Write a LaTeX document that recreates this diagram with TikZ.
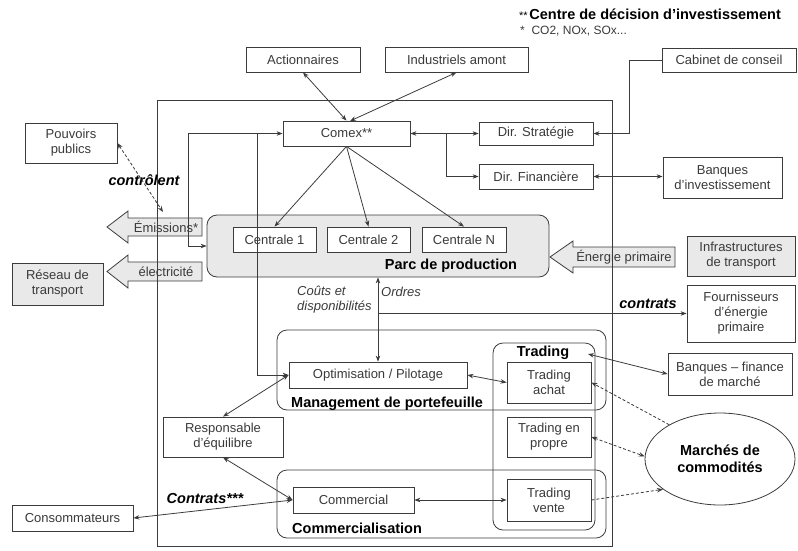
\documentclass[tikz,border=0pt]{standalone}
\usepackage{fontspec}
\setmainfont{Liberation Sans}
\usetikzlibrary{arrows.meta,shapes.geometric}
\definecolor{linec}{HTML}{3C3C3C}
\definecolor{txt}{HTML}{3A3A3A}
\definecolor{grayf}{HTML}{E9E9E9}
\newcommand{\fsreg}{\fontsize{13}{15}\selectfont}
\newcommand{\fsbold}{\fontsize{14.5}{17}\selectfont\bfseries}
\tikzset{
  box/.style={draw=linec, line width=0.8pt, fill=white, inner sep=1pt, align=center, text=txt, font=\fsreg},
  graybox/.style={box, fill=grayf},
  cont/.style={draw=linec, line width=0.8pt, rounded corners=10pt},
  blk/.style={draw=linec, line width=0.8pt, fill=grayf},
  conn/.style={draw=linec, line width=0.8pt},
  tip2/.style={{Stealth[length=6pt,width=4.5pt]}-{Stealth[length=6pt,width=4.5pt]}},
  tip1/.style={-{Stealth[length=6pt,width=4.5pt]}},
  dsh/.style={dash pattern=on 3pt off 2pt},
  lbl/.style={inner sep=0pt, text=black, font=\fsbold},
  ilbl/.style={inner sep=0pt, text=txt, font=\fsreg\itshape, align=left},
  bilbl/.style={inner sep=0pt, text=black, font=\fsbold\itshape}
}
\begin{document}
\begin{tikzpicture}[x=1pt,y=-1pt]
\useasboundingbox (0,0) rectangle (798,550);

% legend
\node[anchor=west, inner sep=0pt, text=black] (leg1) at (519,14) {{\fontsize{11}{13}\selectfont **}\,{\fsbold Centre de décision d'investissement}};
\node[anchor=west, inner sep=0pt, text=txt, font=\fontsize{12}{14}\selectfont] (leg2) at (520,31) {*\ \ CO2, NOx, SOx...};

% containers
\node[cont, fill=grayf, minimum width=342pt, minimum height=62pt, inner sep=0pt] (parc) at (378,246) {};
\node[cont, minimum width=329pt, minimum height=80pt, inner sep=0pt] (mgmt) at (441.5,370) {};
\node[cont, minimum width=329pt, minimum height=68pt, inner sep=0pt] (commc) at (441.5,504) {};
\node[cont, minimum width=102pt, minimum height=187pt, inner sep=0pt] (trad) at (544,436.5) {};

% block arrows
\draw[blk] (202,218) -- (128,218) -- (128,211) -- (107,227) -- (128,243) -- (128,236) -- (202,236) -- cycle;
\node[inner sep=0pt, text=txt, font=\fsreg] (emt) at (166,227) {Émissions*};
\draw[blk] (202,262) -- (128,262) -- (128,255) -- (107,271.5) -- (128,288) -- (128,281) -- (202,281) -- cycle;
\node[inner sep=0pt, text=txt, font=\fsreg] (elt) at (166,271.5) {électricité};
\draw[blk] (675,247) -- (573,247) -- (573,241) -- (550,257) -- (573,273) -- (573,267) -- (675,267) -- cycle;
\node[inner sep=0pt, text=txt, font=\fsreg] (ent) at (624,257) {Énergie primaire};

% outer frame
\draw[conn] (157,100) rectangle (612,546);

% boxes
\node[box, minimum width=114pt, minimum height=25pt] (act) at (303,59.5) {Actionnaires};
\node[box, minimum width=143pt, minimum height=25pt] (ind) at (456.5,59.5) {Industriels amont};
\node[box, minimum width=134pt, minimum height=24pt] (cab) at (729,60) {Cabinet de conseil};
\node[box, minimum width=127pt, minimum height=25pt] (comex) at (346.5,133.5) {Comex**};
\node[box, minimum width=114pt, minimum height=23pt] (strat) at (536,133.5) {Dir. Stratégie};
\node[box, minimum width=114pt, minimum height=25pt] (fin) at (536,176.5) {Dir. Financière};
\node[box, minimum width=119pt, minimum height=41pt] (bqi) at (722.5,177.5) {Banques\\d'investissement};
\node[box, minimum width=92pt, minimum height=40pt] (pouv) at (71,143) {Pouvoirs\\publics};
\node[graybox, minimum width=91pt, minimum height=42pt] (reseau) at (57.5,284) {Réseau de\\transport};
\node[box, minimum width=83pt, minimum height=25pt] (c1) at (274.5,239.5) {Centrale 1};
\node[box, minimum width=83pt, minimum height=25pt] (c2) at (368.5,239.5) {Centrale 2};
\node[box, minimum width=84pt, minimum height=25pt] (cN) at (464,239.5) {Centrale N};
\node[lbl] (parcl) at (451,266) {Parc de production};
\node[graybox, minimum width=108pt, minimum height=40pt] (infra) at (741,256) {Infrastructures\\de transport};
\node[box, minimum width=108pt, minimum height=57pt] (four) at (741,313.5) {Fournisseurs\\d'énergie\\primaire};
\node[box, minimum width=178pt, minimum height=26pt] (optim) at (378,375) {Optimisation / Pilotage};
\node[lbl, anchor=west] (mgmtl) at (291,404) {Management de portefeuille};
\node[lbl] (tradl) at (543,353) {Trading};
\node[box, minimum width=84pt, minimum height=41pt] (ta) at (549,382.5) {Trading\\achat};
\node[box, minimum width=84pt, minimum height=40pt] (tp) at (549,437) {Trading en\\propre};
\node[box, minimum width=84pt, minimum height=42pt] (tv) at (549,500) {Trading\\vente};
\node[box, minimum width=121pt, minimum height=26pt] (commercial) at (353.5,500) {Commercial};
\node[lbl, anchor=west] (comml) at (292,528) {Commercialisation};
\node[box, minimum width=120pt, minimum height=40pt] (resp) at (223,437) {Responsable\\d'équilibre};
\node[box, minimum width=121pt, minimum height=26pt] (conso) at (72.5,518) {Consommateurs};
\node[box, minimum width=124pt, minimum height=42pt] (bqm) at (730,374) {Banques -- finance\\de marché};
\node[draw=linec, line width=0.8pt, fill=white, ellipse, minimum width=150pt, minimum height=92pt, inner sep=0pt, align=center, text=black, font=\fsbold] (mc) at (720,459) {Marchés de\\commodités};

% labels
\node[bilbl] (ctl) at (144,180) {contrôlent};
\node[bilbl] (ctr) at (648,304) {contrats};
\node[bilbl] (ctc) at (205,498) {Contrats***};
\node[ilbl, anchor=west] (cout) at (297,300) {Coûts et\\disponibilités};
\node[ilbl, anchor=west] (ord) at (381,292) {Ordres};

% coordinates
\coordinate (br) at (446,133.5);
\coordinate (cb) at (629,60);
\coordinate (lk) at (188,133.5);
\coordinate (lk2) at (257,133.5);
\coordinate (cj) at (378,313.5);
\coordinate (trE) at (588,354);
\coordinate (emA) at (163,212);
\coordinate (comexT) at (350,121);

% connectors
\draw[conn, tip2] (act.south) -- (comex.north);
\draw[conn, tip2] (ind.south) -- (comexT);
\draw[conn, tip2] (comex.east) -- (strat.west);
\draw[conn, tip1] (br) |- (fin.west);
\draw[conn, tip1] (cab.west) -- (cb) |- (strat.east);
\draw[conn, tip2] (fin.east) -- (fin.east -| bqi.west);
\draw[conn, tip2] (comex.west) -- (lk) |- (parc.west);
\draw[conn, tip1] (lk2) |- (optim.west);
\draw[conn, tip1] (comex.south) -- (c1.north);
\draw[conn, tip1] (comex.south) -- (c2.north);
\draw[conn, tip1] (comex.south) -- (cN.north);
\draw[conn, dsh, tip2] (pouv.east) -- (emA);
\draw[conn, tip2] (optim.north) -- (optim.north |- parc.south);
\draw[conn, tip1] (cj) -- (four.west);
\draw[conn, tip2] (optim.east) -- (ta.west);
\draw[conn, tip2] (commercial.east) -- (tv.west);
\draw[conn, tip2] (resp.north) -- (optim.west);
\draw[conn, tip2] (resp.south) -- (commercial.west);
\draw[conn, tip2] (commercial.west) -- (conso.east);
\draw[conn, tip2] (trE) -- (bqm.west);
\draw[conn, dsh, tip1] (mc.146) -- (ta.east);
\draw[conn, dsh, tip2] (tp.east) -- (mc.178);
\draw[conn, dsh, tip1] (tv.east) -- (mc.208);
\end{tikzpicture}
\end{document}
